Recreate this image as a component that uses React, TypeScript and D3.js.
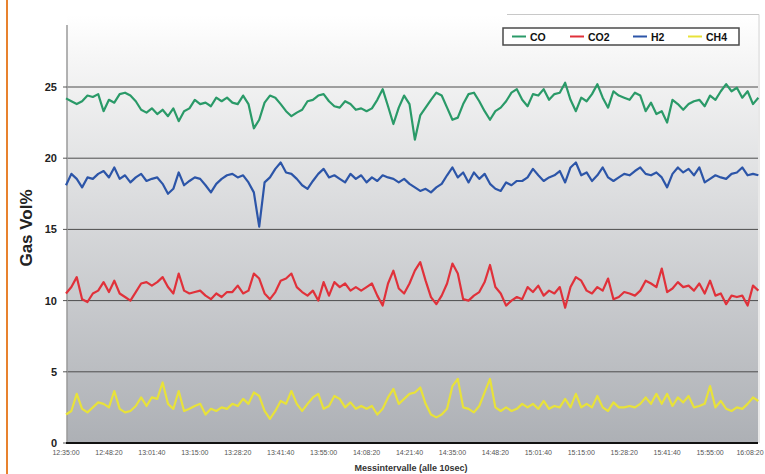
import React from "react";
import * as d3 from "d3";

// sample index step (each sample = 10 s); one value per 10 samples
const sampleStep = 10;

const tickLabels = [
  "12:35:00", "12:48:20", "13:01:40", "13:15:00", "13:28:20", "13:41:40",
  "13:55:00", "14:08:20", "14:21:40", "14:35:00", "14:48:20", "15:01:40",
  "15:15:00", "15:28:20", "15:41:40", "15:55:00", "16:08:20",
];
const tickEvery = 80; // samples between labels

const yTicks = [0, 5, 10, 15, 20, 25];

const seriesNames = ["CO", "CO2", "H2", "CH4"];
const seriesColors = ["#2a9a68", "#e0313a", "#2c55a8", "#e8e23a"];

const coValues = [
  24.2, 24.0, 23.8, 24.0, 24.4, 24.3, 24.5, 23.3, 24.1, 23.9,
  24.5, 24.6, 24.4, 24.0, 23.4, 23.2, 23.5, 23.1, 23.4, 22.95,
  23.5, 22.6, 23.3, 23.5, 24.1, 23.8, 23.9, 23.65, 24.25, 24.0,
  24.25, 23.9, 23.8, 24.4, 23.8, 22.1, 22.7, 23.9, 24.4, 24.25,
  23.8, 23.3, 22.95, 23.2, 23.4, 24.0, 24.1, 24.4, 24.5, 24.0,
  23.65, 23.55, 24.0, 23.8, 23.4, 23.5, 23.3, 23.5, 24.1, 24.85,
  23.65, 22.4, 23.55, 24.4, 23.8, 21.3, 23.0, 23.55, 24.1, 24.6,
  24.4, 23.55, 22.7, 22.85, 23.8, 24.5, 24.6, 24.0, 23.3, 22.7,
  23.3, 23.55, 24.0, 24.6, 24.85, 24.1, 23.65, 24.5, 24.4, 24.85,
  24.1, 24.5, 24.6, 25.3, 24.1, 23.3, 24.25, 24.0, 24.5, 25.2,
  24.25, 23.55, 24.7, 24.4, 24.25, 24.1, 24.6, 24.4, 23.3, 23.9,
  23.1, 23.3, 22.5, 24.1, 23.8, 23.4, 23.8, 24.0, 24.1, 23.65,
  24.4, 24.1, 24.7, 25.2, 24.7, 24.95, 24.25, 24.7, 23.8, 24.25,
];

const co2Values = [
  10.5, 10.95, 11.65, 10.1, 9.9, 10.5, 10.7, 11.3, 10.6, 11.4,
  10.5, 10.25, 10.0, 10.6, 11.2, 11.3, 11.05, 11.3, 11.65, 10.95,
  10.5, 11.9, 10.7, 10.5, 10.6, 10.7, 10.35, 10.1, 10.5, 10.25,
  10.6, 10.6, 11.05, 10.5, 10.7, 11.9, 11.55, 10.5, 10.1, 10.6,
  11.4, 11.55, 11.9, 10.95, 10.6, 10.35, 10.7, 10.0, 11.3, 10.35,
  11.3, 10.95, 11.2, 10.7, 10.95, 10.7, 10.95, 11.2, 10.35, 9.65,
  11.2, 12.1, 10.85, 10.5, 11.2, 12.1, 12.7, 11.4, 10.25, 9.75,
  10.35, 11.2, 12.6, 11.9, 10.1, 10.0, 10.35, 10.6, 11.3, 12.5,
  10.95, 10.5, 9.65, 10.0, 10.25, 10.1, 10.95, 10.6, 11.05, 10.35,
  10.7, 10.5, 10.95, 9.5, 10.95, 11.65, 11.4, 10.7, 10.5, 10.95,
  10.7, 11.55, 10.1, 10.25, 10.6, 10.5, 10.35, 10.7, 11.4, 11.2,
  10.95, 12.25, 10.6, 10.85, 11.3, 10.95, 11.05, 10.7, 11.2, 10.5,
  11.4, 10.35, 10.5, 9.75, 10.35, 10.25, 10.35, 9.65, 11.05, 10.7,
];

const h2Values = [
  18.1, 18.9, 18.55, 17.95, 18.65, 18.55, 18.9, 19.1, 18.65, 19.35,
  18.55, 18.8, 18.3, 18.65, 18.9, 18.4, 18.55, 18.65, 18.2, 17.5,
  17.85, 19.0, 18.1, 18.4, 18.65, 18.55, 18.1, 17.6, 18.2, 18.55,
  18.8, 18.9, 18.65, 18.8, 18.3, 17.6, 15.2, 18.3, 18.65, 19.25,
  19.7, 19.0, 18.9, 18.55, 18.1, 17.85, 18.4, 18.9, 19.25, 18.65,
  18.8, 18.55, 18.3, 18.9, 18.55, 18.8, 18.3, 18.65, 18.4, 18.8,
  18.65, 18.55, 18.3, 18.55, 18.2, 17.95, 17.7, 17.85, 17.6, 17.95,
  18.2, 18.8, 19.35, 18.65, 19.0, 18.3, 19.0, 18.55, 18.9, 18.2,
  17.85, 17.7, 18.3, 18.1, 18.4, 18.4, 18.65, 19.25, 18.8, 18.4,
  18.65, 18.8, 19.1, 18.3, 19.35, 19.7, 18.8, 19.0, 18.4, 18.8,
  19.35, 18.65, 18.4, 18.65, 18.9, 18.8, 19.1, 19.35, 18.9, 18.8,
  19.0, 18.65, 17.95, 18.9, 19.35, 19.0, 19.25, 18.8, 19.35, 18.3,
  18.55, 18.8, 18.65, 18.55, 18.9, 19.0, 19.35, 18.8, 18.9, 18.8,
];

const ch4Values = [
  2.0, 2.25, 3.45, 2.4, 2.15, 2.5, 2.85, 2.75, 2.5, 3.65,
  2.4, 2.15, 2.25, 2.6, 3.2, 2.6, 3.2, 3.1, 4.25, 2.75,
  2.4, 3.65, 2.25, 2.4, 2.6, 2.75, 2.0, 2.4, 2.25, 2.5,
  2.4, 2.75, 2.6, 3.1, 2.75, 3.55, 3.3, 2.25, 1.7, 2.25,
  2.95, 2.75, 3.65, 2.75, 2.25, 2.75, 3.2, 3.45, 2.4, 2.6,
  3.3, 3.1, 2.5, 2.85, 2.4, 2.6, 2.4, 2.6, 2.0, 2.4,
  3.2, 3.8, 2.75, 3.1, 3.45, 3.55, 3.9, 2.75, 2.0, 1.8,
  2.0, 2.4, 4.0, 4.5, 2.5, 2.4, 2.15, 2.6, 3.55, 4.5,
  2.5, 2.25, 2.5, 2.25, 2.4, 2.75, 2.5, 2.75, 2.4, 2.95,
  2.4, 2.6, 2.5, 3.1, 2.5, 3.45, 2.5, 2.75, 2.5, 3.3,
  2.5, 2.25, 2.85, 2.5, 2.5, 2.6, 2.5, 2.75, 3.2, 2.75,
  3.45, 2.75, 3.45, 2.6, 3.2, 2.85, 3.3, 2.5, 2.6, 2.75,
  4.0, 2.5, 2.95, 2.4, 2.25, 2.5, 2.4, 2.75, 3.2, 2.95,
];

const seriesValues = [coValues, co2Values, h2Values, ch4Values];
const drawOrder = [3, 1, 2, 0];

const FONT = "'Liberation Sans', Arial, sans-serif";

export default function App() {
  const plotLeft = 67;
  const plotRight = 758;
  const plotTop = 15;
  const plotBottom = 443;

  const x = d3.scaleLinear().domain([0, 1280]).range([66, 753]);
  const y = d3.scaleLinear().domain([0, 30]).range([plotBottom, plotBottom - 30 * 14.24]);

  const line = d3
    .line<number>()
    .x((_, i) => x(i * sampleStep))
    .y((d) => y(d));

  const legendX = [512, 570, 633, 688];

  return (
    <div style={{ position: "absolute", left: 0, top: 0, width: 765, height: 474 }}>
      <svg width={765} height={474} style={{ display: "block", background: "#ffffff" }}>
        <defs>
          <linearGradient id="bg" x1="0" y1="0" x2="0" y2="1">
            <stop offset="0" stopColor="#ffffff" />
            <stop offset="0.1" stopColor="#f6f6f6" />
            <stop offset="1" stopColor="#adb0b5" />
          </linearGradient>
        </defs>
        {/* orange left frame line */}
        <line x1={7} y1={0} x2={7} y2={474} stroke="#e8822e" strokeWidth={2} />

        {/* plot background */}
        <rect x={plotLeft} y={plotTop} width={plotRight - plotLeft} height={plotBottom - plotTop} fill="url(#bg)" />
        {/* partial light frame top-right */}
        <line x1={507} y1={14.5} x2={plotRight + 1} y2={14.5} stroke="#c8c8c8" strokeWidth={1} />
        <line x1={plotRight + 1} y1={14.5} x2={plotRight + 1} y2={plotBottom} stroke="#d0d0d0" strokeWidth={1} />

        {/* gridlines */}
        {yTicks.filter((t) => t > 0).map((t) => (
          <line key={t} x1={plotLeft} x2={plotRight} y1={y(t)} y2={y(t)} stroke="#4d4d4d" strokeWidth={1} />
        ))}

        {/* y axis */}
        <line x1={plotLeft} y1={25} x2={plotLeft} y2={plotBottom} stroke="#9a9a9a" strokeWidth={1.5} />
        {yTicks.map((t) => (
          <g key={"yt" + t}>
            <line x1={plotLeft - 4} x2={plotLeft} y1={y(t)} y2={y(t)} stroke="#555" strokeWidth={1} />
            <text
              x={57}
              y={y(t) + 4}
              textAnchor="end"
              fontFamily={FONT}
              fontWeight="bold"
              fontSize={11}
              fill="#222"
            >
              {t}
            </text>
          </g>
        ))}

        {/* series */}
        {drawOrder.map((k) => (
          <path
            key={seriesNames[k]}
            d={line(seriesValues[k]) || ""}
            fill="none"
            stroke={seriesColors[k]}
            strokeWidth={2.2}
            strokeLinejoin="round"
          />
        ))}

        {/* x axis */}
        <line x1={66} x2={plotRight} y1={plotBottom} y2={plotBottom} stroke="#111" strokeWidth={2} />
        {tickLabels.map((lab, i) => (
          <text
            key={lab}
            x={Math.min(x(i * tickEvery), 750)}
            y={455}
            textAnchor="middle"
            fontFamily={FONT}
            fontSize={7}
            fill="#555"
          >
            {lab}
          </text>
        ))}
        <text x={411} y={471} textAnchor="middle" fontFamily={FONT} fontWeight="bold" fontSize={9} fill="#333">
          Messintervalle (alle 10sec)
        </text>

        {/* y title */}
        <text
          transform="translate(32,228) rotate(-90)"
          textAnchor="middle"
          fontFamily={FONT}
          fontWeight="bold"
          fontSize={17}
          fill="#222"
        >
          Gas Vol%
        </text>

        {/* legend */}
        <rect x={503} y={28} width={236} height={17} fill="#ffffff" stroke="#4a4a4a" strokeWidth={1.5} />
        {seriesNames.map((n, k) => (
          <g key={"lg" + n}>
            <line x1={legendX[k]} x2={legendX[k] + 14} y1={36.5} y2={36.5} stroke={seriesColors[k]} strokeWidth={2} />
            <text x={legendX[k] + 18} y={40.5} fontFamily={FONT} fontWeight="bold" fontSize={10.5} fill="#111">
              {n}
            </text>
          </g>
        ))}
      </svg>
    </div>
  );
}
